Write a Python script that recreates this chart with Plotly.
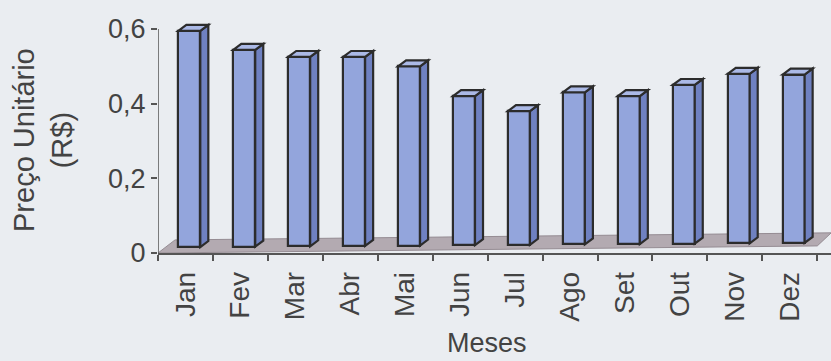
import plotly.graph_objects as go

# ---- data ----
months = ["Jan", "Fev", "Mar", "Abr", "Mai", "Jun", "Jul", "Ago", "Set", "Out", "Nov", "Dez"]
prices = [0.595, 0.544, 0.525, 0.525, 0.500, 0.420, 0.380, 0.430, 0.420, 0.450, 0.480, 0.478]
y_ticks = [0, 0.2, 0.4, 0.6]
y_tick_text = ["0", "0,2", "0,4", "0,6"]
y_title = "Preço Unitário<br>(R$)"
x_title = "Meses"

# ---- style ----
FONT = "Liberation Sans, Arial, sans-serif"
TEXT = "#434343"
AXIS = "#555555"
BG = "#eaedf1"
FRONT = "#93a5dc"
SIDE = "#6f81c1"
TOP = "#abb9e6"
EDGE = "#2c2c2c"
FLOOR = "#b3aab1"

W_FRONT = 0.40      # front face width (category units)
SHIFT = 0.07        # front face offset from category centre
DX = 0.146          # depth offset (category units)
DY = 0.016          # depth offset (value units)
BASE0 = 0.016       # bar base on the floor
BASE_SLOPE = 0.001  # floor slant per category
FLOOR_SLANT = 0.019
FLOOR_DX = 0.31
FLOOR_DY = 0.035

n = len(months)
xs = [i + SHIFT for i in range(n)]
bases = [BASE0 + BASE_SLOPE * i for i in range(n)]
heights = [v - b for v, b in zip(prices, bases)]

fig = go.Figure()
fig.add_trace(go.Bar(
    x=xs, y=heights, base=bases, width=W_FRONT,
    marker=dict(color=FRONT, line=dict(color=EDGE, width=2.2)),
    hoverinfo="skip", showlegend=False,
))

shapes = []
# floor
x_lo, x_hi = -0.5, n - 0.5
shapes.append(dict(
    type="path", xref="x", yref="y", layer="below",
    path=(f"M {x_lo},0 L {x_hi},{FLOOR_SLANT} "
          f"L {x_hi + FLOOR_DX * 0.82},{FLOOR_SLANT + FLOOR_DY} "
          f"L {x_lo + FLOOR_DX},{FLOOR_DY} Z"),
    fillcolor=FLOOR, line=dict(color="#958c93", width=1),
))
# y axis line
shapes.append(dict(type="line", xref="x", yref="y", x0=x_lo, x1=x_lo, y0=0, y1=y_ticks[-1],
                   line=dict(color=AXIS, width=1.5)))
# side and top faces
for x, b, v in zip(xs, bases, prices):
    xl, xr = x - W_FRONT / 2, x + W_FRONT / 2
    shapes.append(dict(
        type="path", xref="x", yref="y",
        path=f"M {xr},{b} L {xr + DX},{b + DY} L {xr + DX},{v + DY} L {xr},{v} Z",
        fillcolor=SIDE, line=dict(color=EDGE, width=2.2),
    ))
    shapes.append(dict(
        type="path", xref="x", yref="y",
        path=f"M {xl},{v} L {xl + DX},{v + DY} L {xr + DX},{v + DY} L {xr},{v} Z",
        fillcolor=TOP, line=dict(color=EDGE, width=2.2),
    ))

L, T, B = 158, 20, 108
PW, PH = 831 - L, 361 - T - B

fig.update_layout(
    width=831, height=361,
    margin=dict(l=L, r=0, t=T, b=B),
    paper_bgcolor=BG, plot_bgcolor=BG,
    font=dict(family=FONT, color=TEXT),
    shapes=shapes,
    bargap=0,
    xaxis=dict(
        range=[x_lo, n - 0.5 + 0.25],
        tickmode="array", tickvals=list(range(n)), ticktext=months,
        tickangle=-90, tickfont=dict(size=28, color=TEXT),
        ticks="", ticklabelstandoff=6,
        minor=dict(tickmode="array", tickvals=[i - 0.5 for i in range(n + 1)],
                   ticks="outside", ticklen=6, tickcolor=AXIS, tickwidth=1.5),
        showline=True, linecolor=AXIS, linewidth=1.5,
        showgrid=False, zeroline=False, fixedrange=True,
    ),
    yaxis=dict(
        range=[0, 0.624],
        tickmode="array", tickvals=y_ticks, ticktext=y_tick_text,
        tickfont=dict(size=27, color=TEXT),
        ticks="outside", ticklen=6, tickcolor=AXIS, tickwidth=1.5,
        showline=False, showgrid=False, zeroline=False, fixedrange=True,
    ),
    annotations=[
        dict(text=y_title, xref="paper", yref="paper",
             x=(43 - L) / PW, y=(T + PH - 140) / PH,
             xanchor="center", yanchor="middle", textangle=-90,
             showarrow=False, font=dict(size=29, color=TEXT)),
        dict(text=x_title, xref="paper", yref="paper",
             x=(487 - L) / PW, y=(T + PH - 343) / PH,
             xanchor="center", yanchor="middle",
             showarrow=False, font=dict(size=27, color=TEXT)),
    ],
)

fig.write_html("out.html")
